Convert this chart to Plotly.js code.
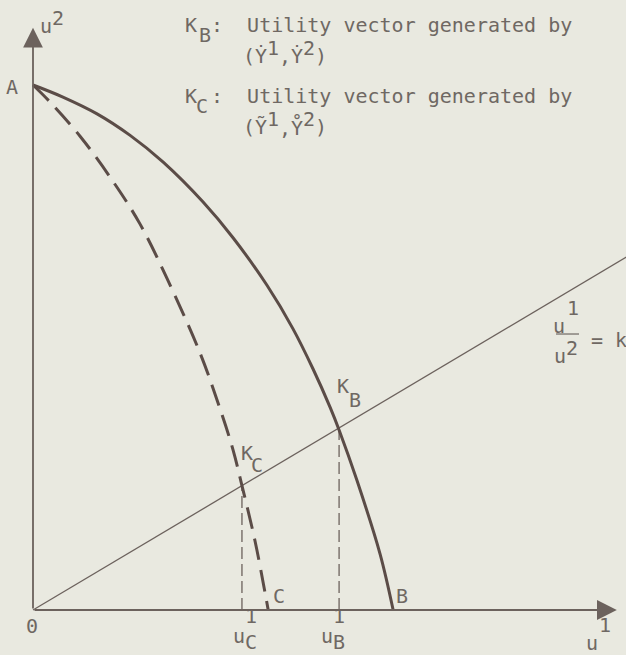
<!DOCTYPE html>
<html>
<head>
<meta charset="utf-8">
<script src="https://cdn.plot.ly/plotly-3.0.1.min.js"></script>
<style>
  html, body { margin: 0; padding: 0; background: #e9e9e0; }
  #chart { width: 626px; height: 655px; }
</style>
</head>
<body>
<div id="chart"></div>
<script>
// Utility possibility frontier generated by (Y°1, Y°2): A -> K_B -> B
const frontierBU1 = [0, 0.57, 1.22, 1.85, 2.48, 3.24, 3.81, 4.46, 4.95, 5.33, 5.66, 5.83, 6.17, 6.61, 6.86];
const frontierBU2 = [10, 9.77, 9.45, 9.04, 8.53, 7.77, 7.09, 6.18, 5.36, 4.60, 3.86, 3.43, 2.47, 1.07, 0];

// Utility possibility frontier generated by (Y~1, Y°2): A -> K_C -> C
const frontierCU1 = [0, 0.32, 0.90, 1.52, 2.04, 2.55, 3.18, 3.56, 3.81, 3.98, 4.23, 4.48];
const frontierCU2 = [10, 9.68, 9.02, 8.17, 7.35, 6.32, 4.90, 3.84, 3.05, 2.37, 1.31, 0];

// Ray u1/u2 = k through the origin
const rayU1 = [0, 11.6];
const rayU2 = [0, 6.9];

// Intersection points K_B and K_C, projected onto the u1 axis
const kNames = ['B', 'C'];
const kU1 = [5.83, 3.98];
const kU2 = [3.43, 2.37];

// Axis extents
const u1AxisEnd = 11.12;
const u2AxisEnd = 11.09;

const ink = '#5b4c47';
const thin = '#6c625d';
const textColor = '#6f6863';
const mono = 'DejaVu Sans Mono, monospace';

const projX = [], projY = [];
kU1.forEach((x, i) => { projX.push(x, x, null); projY.push(0, kU2[i], null); });

const traces = [
  { x: rayU1, y: rayU2, mode: 'lines', line: { color: thin, width: 1.3 }, hoverinfo: 'skip' },
  { x: projX, y: projY, mode: 'lines', line: { color: thin, width: 1.3, dash: '12px,5px' }, hoverinfo: 'skip' },
  { x: frontierCU1, y: frontierCU2, mode: 'lines',
    line: { color: ink, width: 3, shape: 'spline', smoothing: 1, dash: '22px,10px' }, hoverinfo: 'skip' },
  { x: frontierBU1, y: frontierBU2, mode: 'lines',
    line: { color: ink, width: 3, shape: 'spline', smoothing: 1 }, hoverinfo: 'skip' }
];

// [text, x, y, xanchor, yanchor]
const labels = [
  ['A', -0.40, 9.96, 'center'],
  ['u', 0.257, 11.12, 'center'], ['2', 0.476, 11.276, 'center'],

  ['K', 3.01, 11.14, 'center'], ['B', 3.276, 10.95, 'center'],
  [':  Utility vector generated by', 3.39, 11.14, 'left'],
  ['(Y\u0307', 4.0, 10.552, 'left'], ['1', 4.457, 10.705, 'left'],
  [',Y\u0307', 4.686, 10.552, 'left'], ['2', 5.143, 10.705, 'left'], [')', 5.371, 10.552, 'left'],

  ['K', 3.01, 9.79, 'center'], ['C', 3.219, 9.60, 'center'],
  [':  Utility vector generated by', 3.39, 9.79, 'left'],
  ['(\u1EF8', 4.0, 9.20, 'left'], ['1', 4.457, 9.352, 'left'],
  [',Y\u030A', 4.686, 9.20, 'left'], ['2', 5.143, 9.352, 'left'], [')', 5.371, 9.20, 'left'],

  ['u', 10.019, 5.41, 'center'], ['1', 10.286, 5.752, 'center'],
  ['u', 10.038, 4.838, 'center'], ['2', 10.267, 4.99, 'center'],
  ['= k', 10.629, 5.143, 'left'],

  ['K', 5.905, 4.267, 'center'], ['B', 6.133, 4.0, 'center'],
  ['K', 4.076, 2.99, 'center'], ['C', 4.276, 2.762, 'center'],
  ['C', 4.695, 0.267, 'center'], ['B', 7.029, 0.267, 'center'],

  ['0', -0.019, -0.305, 'center'],
  ['u', 3.924, -0.495, 'center'], ['1<br>C', 4.152, -0.838, 'center', 'bottom'],
  ['u', 5.60, -0.495, 'center'], ['1<br>B', 5.829, -0.838, 'center', 'bottom'],
  ['u', 10.657, -0.629, 'center'], ['1', 10.886, -0.286, 'center']
];

const annotations = labels.map(([text, x, y, xanchor, yanchor]) => ({
  text, x, y, xref: 'x', yref: 'y', xanchor, yanchor: yanchor || 'middle',
  showarrow: false, borderpad: 0, borderwidth: 0,
  font: { family: mono, size: 20, color: textColor }
}));

// axes with arrowheads
annotations.push(
  { x: 0, y: u2AxisEnd, ax: 0, ay: 0, xref: 'x', yref: 'y', axref: 'x', ayref: 'y',
    text: '', showarrow: true, arrowhead: 2, arrowsize: 2.2, arrowwidth: 1.8, arrowcolor: thin },
  { x: u1AxisEnd, y: 0, ax: 0, ay: 0, xref: 'x', yref: 'y', axref: 'x', ayref: 'y',
    text: '', showarrow: true, arrowhead: 2, arrowsize: 2.2, arrowwidth: 1.8, arrowcolor: thin }
);

const layout = {
  width: 626, height: 655,
  margin: { l: 0, r: 0, t: 0, b: 0 },
  paper_bgcolor: '#e9e9e0', plot_bgcolor: '#e9e9e0',
  showlegend: false,
  xaxis: { visible: false, range: [-0.6286, 11.2952], fixedrange: true },
  yaxis: { visible: false, range: [-0.8571, 11.619], fixedrange: true },
  annotations,
  shapes: [
    // fraction bar of u1/u2
    { type: 'line', xref: 'x', yref: 'y', x0: 9.962, x1: 10.40, y0: 5.257, y1: 5.257,
      line: { color: textColor, width: 1.2 } }
  ]
};

Plotly.newPlot('chart', traces, layout, { staticPlot: true });
</script>
</body>
</html>
